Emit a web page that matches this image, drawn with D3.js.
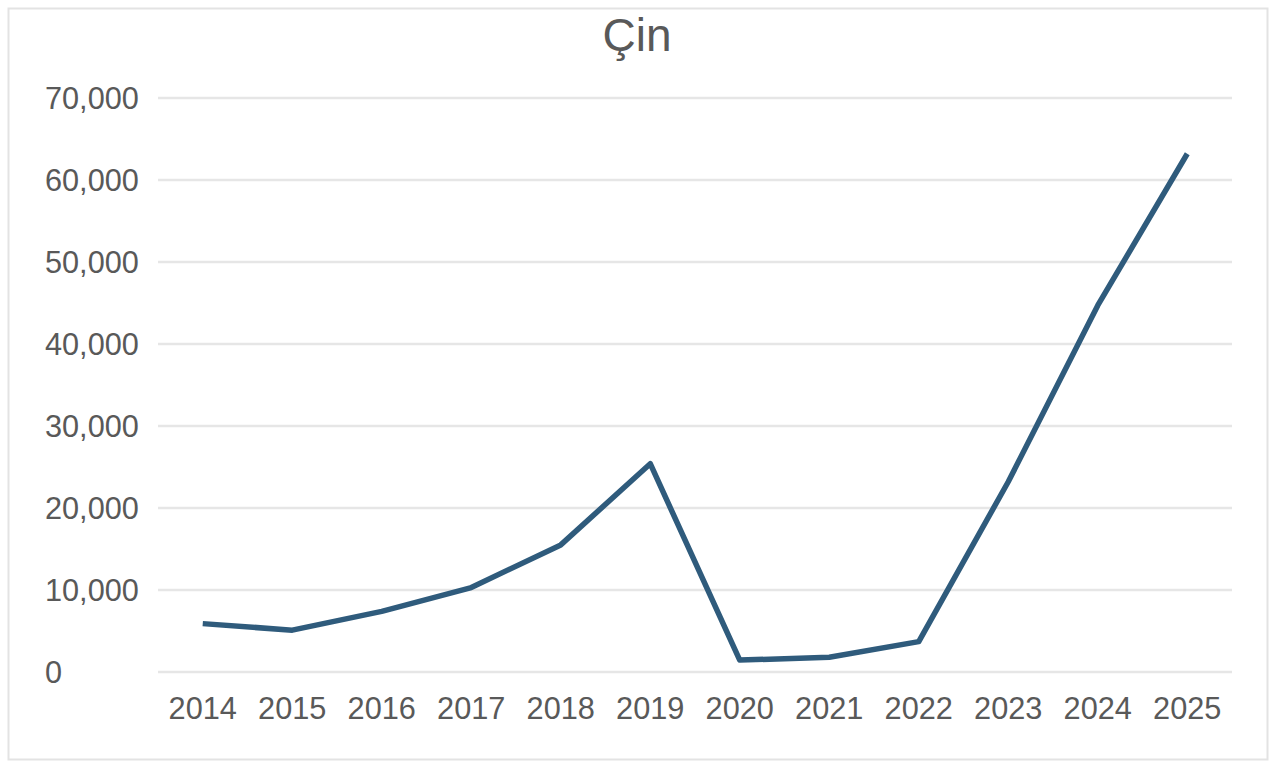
<!DOCTYPE html>
<html>
<head>
<meta charset="utf-8">
<script src="https://cdn.jsdelivr.net/npm/d3@7/dist/d3.min.js"></script>
<style>
  html, body { margin: 0; padding: 0; background: #ffffff; }
  svg { display: block; }
  text { font-family: "Liberation Sans", Arial, sans-serif; fill: #595959; }
</style>
</head>
<body>
<svg id="chart" width="1278" height="764"></svg>
<script>
const title = "Çin";
const years = ["2014","2015","2016","2017","2018","2019","2020","2021","2022","2023","2024","2025"];
const values = [5900, 5100, 7400, 10300, 15500, 25400, 1450, 1800, 3700, 23200, 44700, 63200];
const yTicks = [0, 10000, 20000, 30000, 40000, 50000, 60000, 70000];

const svg = d3.select("#chart");

// outer frame
svg.append("rect")
  .attr("x", 8.5).attr("y", 8.5)
  .attr("width", 1259).attr("height", 751)
  .attr("fill", "#ffffff")
  .attr("stroke", "#e3e3e3").attr("stroke-width", 2);

const x = d3.scaleBand().domain(years).range([158, 1232]).padding(0);
const y = d3.scaleLinear().domain([0, 70000]).range([672, 98]);

// gridlines
svg.append("g")
  .selectAll("line")
  .data(yTicks)
  .join("line")
  .attr("x1", 158).attr("x2", 1232)
  .attr("y1", d => y(d)).attr("y2", d => y(d))
  .attr("stroke", "#e6e6e6").attr("stroke-width", 2.5);

// y axis labels (left aligned)
const fmt = d3.format(",");
svg.append("g")
  .selectAll("text")
  .data(yTicks)
  .join("text")
  .attr("transform", d => `translate(45,${y(d) + 11}) scale(0.99,1)`)
  .attr("text-anchor", "start")
  .attr("font-size", 31)
  .text(d => fmt(d));

// x axis labels
svg.append("g")
  .selectAll("text")
  .data(years)
  .join("text")
  .attr("transform", d => `translate(${x(d) + x.bandwidth() / 2},719) scale(0.96,1)`)
  .attr("text-anchor", "middle")
  .attr("font-size", 32)
  .text(d => d);

// line
const line = d3.line()
  .x((d, i) => x(years[i]) + x.bandwidth() / 2)
  .y(d => y(d));

svg.append("path")
  .datum(values)
  .attr("d", line)
  .attr("fill", "none")
  .attr("stroke", "#2f5b7c")
  .attr("stroke-width", 5.5)
  .attr("stroke-linejoin", "round")
  .attr("stroke-linecap", "butt");

// title
svg.append("text")
  .attr("transform", "translate(637,51)")
  .attr("text-anchor", "middle")
  .attr("font-size", 46)
  .text(title);
</script>
</body>
</html>
